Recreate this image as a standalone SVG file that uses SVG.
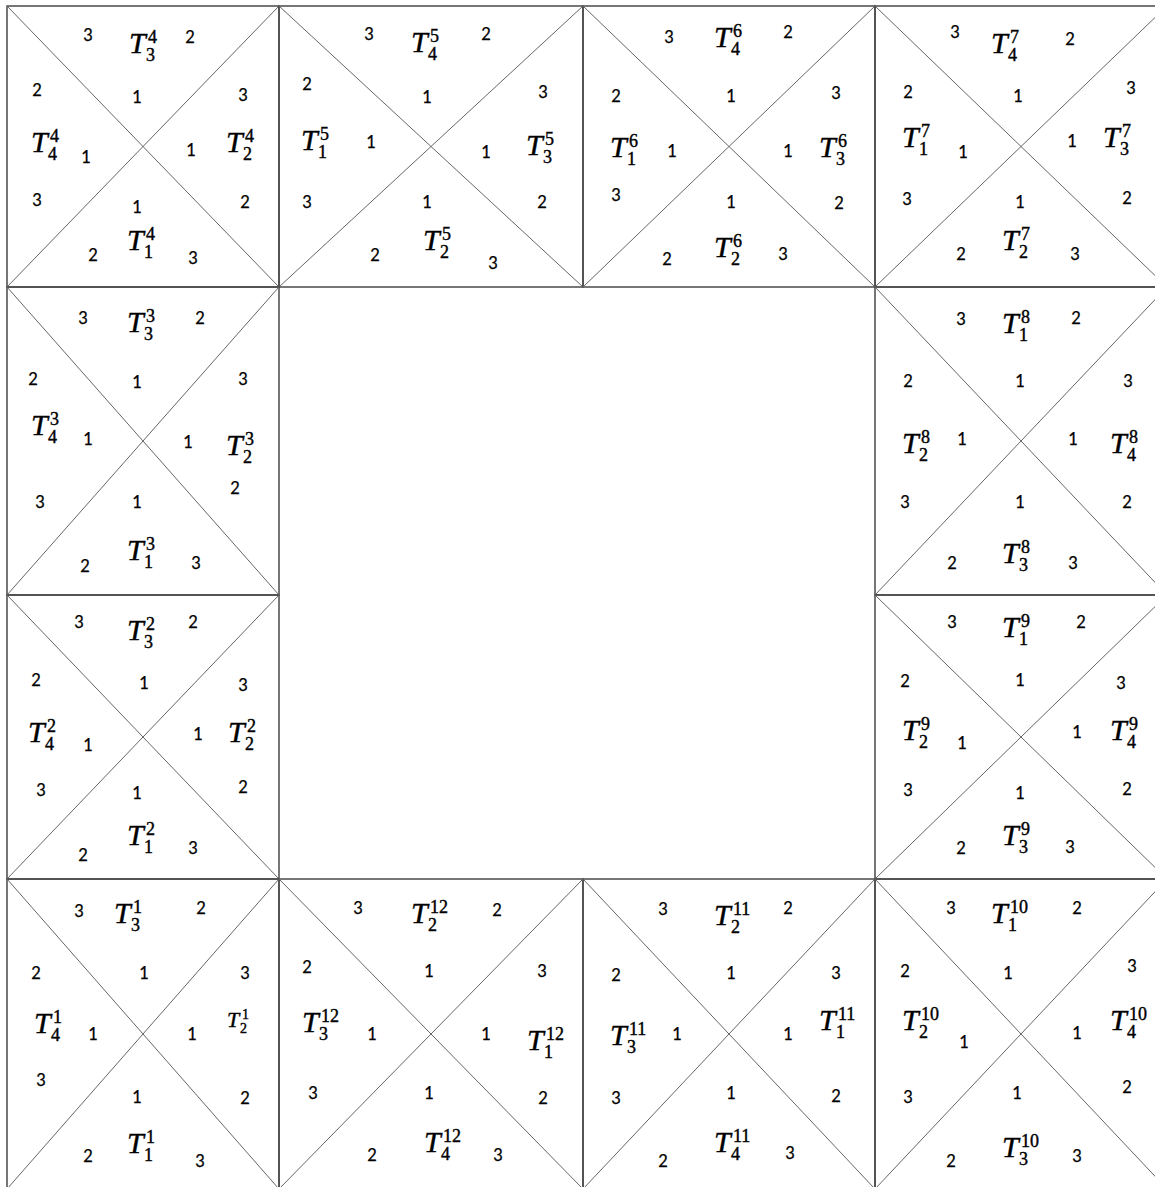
<svg xmlns="http://www.w3.org/2000/svg" width="1155" height="1187" viewBox="0 0 1155 1187">
<style>
.bd{fill:none;stroke:#4a4a4a;stroke-width:1.5}
.dg{fill:none;stroke:#666;stroke-width:1}
.n{font-family:Lato,"Liberation Sans",sans-serif;font-size:16.5px;fill:#000;stroke:#000;stroke-width:0.25;text-anchor:middle}
.T{font-family:"Liberation Serif",serif;font-style:italic;font-size:30px;fill:#000;stroke:#000;stroke-width:0.4}
.s{font-family:"Liberation Serif",serif;font-style:normal;font-size:18px}
.Tsm{font-size:22px}
.ssm{font-size:14px}
</style>
<rect width="1155" height="1187" fill="#fff"/>
<g id="connectors"></g>

<g id="sq4">
<rect class="bd" x="7" y="6" width="272" height="281"/>
<path class="dg" d="M7 6L279 287M279 6L7 287"/>
<text class="n" x="88" y="41">3</text><text class="n" x="190" y="43">2</text>
<text class="n" x="37" y="96">2</text><text class="n" x="137" y="103">1</text><text class="n" x="243" y="101">3</text>
<text class="n" x="86" y="163">1</text><text class="n" x="191" y="156">1</text>
<text class="n" x="37" y="206">3</text><text class="n" x="137" y="213">1</text><text class="n" x="245" y="208">2</text>
<text class="n" x="93" y="261">2</text><text class="n" x="193" y="264">3</text>
<text class="T" x="129" y="53">T<tspan class="s" x="148" y="43">4</tspan><tspan class="s" x="146" y="61">3</tspan></text>
<text class="T" x="31" y="152">T<tspan class="s" x="50" y="142">4</tspan><tspan class="s" x="48" y="160">4</tspan></text>
<text class="T" x="226" y="152">T<tspan class="s" x="245" y="142">4</tspan><tspan class="s" x="243" y="160">2</tspan></text>
<text class="T" x="127" y="250">T<tspan class="s" x="146" y="240">4</tspan><tspan class="s" x="144" y="258">1</tspan></text>
</g>

<g id="sq5">
<rect class="bd" x="279" y="6" width="304" height="281"/>
<path class="dg" d="M279 6L583 287M583 6L279 287"/>
<text class="n" x="369" y="40">3</text><text class="n" x="486" y="40">2</text>
<text class="n" x="307" y="90">2</text><text class="n" x="427" y="103">1</text><text class="n" x="543" y="98">3</text>
<text class="n" x="371" y="148">1</text><text class="n" x="486" y="158">1</text>
<text class="n" x="307" y="208">3</text><text class="n" x="427" y="208">1</text><text class="n" x="542" y="208">2</text>
<text class="n" x="375" y="261">2</text><text class="n" x="493" y="269">3</text>
<text class="T" x="411" y="52">T<tspan class="s" x="430" y="42">5</tspan><tspan class="s" x="428" y="60">4</tspan></text>
<text class="T" x="301" y="150">T<tspan class="s" x="320" y="140">5</tspan><tspan class="s" x="318" y="158">1</tspan></text>
<text class="T" x="526" y="155">T<tspan class="s" x="545" y="145">5</tspan><tspan class="s" x="543" y="163">3</tspan></text>
<text class="T" x="423" y="250">T<tspan class="s" x="442" y="240">5</tspan><tspan class="s" x="440" y="258">2</tspan></text>
</g>

<g id="sq6">
<rect class="bd" x="583" y="6" width="292" height="281"/>
<path class="dg" d="M583 6L875 287M875 6L583 287"/>
<text class="n" x="669" y="43">3</text><text class="n" x="788" y="38">2</text>
<text class="n" x="616" y="102">2</text><text class="n" x="731" y="102">1</text><text class="n" x="836" y="99">3</text>
<text class="n" x="672" y="157">1</text><text class="n" x="788" y="157">1</text>
<text class="n" x="616" y="201">3</text><text class="n" x="731" y="208">1</text><text class="n" x="839" y="209">2</text>
<text class="n" x="667" y="265">2</text><text class="n" x="783" y="260">3</text>
<text class="T" x="714" y="47">T<tspan class="s" x="733" y="37">6</tspan><tspan class="s" x="731" y="55">4</tspan></text>
<text class="T" x="610" y="157">T<tspan class="s" x="629" y="147">6</tspan><tspan class="s" x="627" y="165">1</tspan></text>
<text class="T" x="819" y="157">T<tspan class="s" x="838" y="147">6</tspan><tspan class="s" x="836" y="165">3</tspan></text>
<text class="T" x="714" y="257">T<tspan class="s" x="733" y="247">6</tspan><tspan class="s" x="731" y="265">2</tspan></text>
</g>

<g id="sq7">
<rect class="bd" x="875" y="6" width="292" height="281"/>
<path class="dg" d="M875 6L1167 287M1167 6L875 287"/>
<text class="n" x="955" y="38">3</text><text class="n" x="1070" y="45">2</text>
<text class="n" x="908" y="98">2</text><text class="n" x="1018" y="102">1</text><text class="n" x="1131" y="94">3</text>
<text class="n" x="963" y="158">1</text><text class="n" x="1072" y="147">1</text>
<text class="n" x="907" y="205">3</text><text class="n" x="1020" y="208">1</text><text class="n" x="1127" y="204">2</text>
<text class="n" x="961" y="260">2</text><text class="n" x="1075" y="260">3</text>
<text class="T" x="991" y="53">T<tspan class="s" x="1010" y="43">7</tspan><tspan class="s" x="1008" y="61">4</tspan></text>
<text class="T" x="902" y="147">T<tspan class="s" x="921" y="137">7</tspan><tspan class="s" x="919" y="155">1</tspan></text>
<text class="T" x="1103" y="147">T<tspan class="s" x="1122" y="137">7</tspan><tspan class="s" x="1120" y="155">3</tspan></text>
<text class="T" x="1002" y="250">T<tspan class="s" x="1021" y="240">7</tspan><tspan class="s" x="1019" y="258">2</tspan></text>
</g>

<g id="sq3">
<rect class="bd" x="7" y="287" width="272" height="308"/>
<path class="dg" d="M7 287L279 595M279 287L7 595"/>
<text class="n" x="83" y="324">3</text><text class="n" x="200" y="324">2</text>
<text class="n" x="33" y="385">2</text><text class="n" x="137" y="388">1</text><text class="n" x="243" y="385">3</text>
<text class="n" x="88" y="445">1</text><text class="n" x="188" y="448">1</text>
<text class="n" x="40" y="508">3</text><text class="n" x="137" y="508">1</text><text class="n" x="235" y="494">2</text>
<text class="n" x="85" y="572">2</text><text class="n" x="196" y="569">3</text>
<text class="T" x="127" y="332">T<tspan class="s" x="146" y="322">3</tspan><tspan class="s" x="144" y="340">3</tspan></text>
<text class="T" x="31" y="435">T<tspan class="s" x="50" y="425">3</tspan><tspan class="s" x="48" y="443">4</tspan></text>
<text class="T" x="226" y="455">T<tspan class="s" x="245" y="445">3</tspan><tspan class="s" x="243" y="463">2</tspan></text>
<text class="T" x="127" y="560">T<tspan class="s" x="146" y="550">3</tspan><tspan class="s" x="144" y="568">1</tspan></text>
</g>

<g id="sq8">
<rect class="bd" x="875" y="287" width="292" height="308"/>
<path class="dg" d="M875 287L1167 595M1167 287L875 595"/>
<text class="n" x="961" y="325">3</text><text class="n" x="1076" y="324">2</text>
<text class="n" x="908" y="387">2</text><text class="n" x="1020" y="387">1</text><text class="n" x="1128" y="387">3</text>
<text class="n" x="962" y="445">1</text><text class="n" x="1073" y="445">1</text>
<text class="n" x="905" y="508">3</text><text class="n" x="1020" y="508">1</text><text class="n" x="1127" y="508">2</text>
<text class="n" x="952" y="569">2</text><text class="n" x="1073" y="569">3</text>
<text class="T" x="1002" y="333">T<tspan class="s" x="1021" y="323">8</tspan><tspan class="s" x="1019" y="341">1</tspan></text>
<text class="T" x="902" y="453">T<tspan class="s" x="921" y="443">8</tspan><tspan class="s" x="919" y="461">2</tspan></text>
<text class="T" x="1110" y="453">T<tspan class="s" x="1129" y="443">8</tspan><tspan class="s" x="1127" y="461">4</tspan></text>
<text class="T" x="1002" y="563">T<tspan class="s" x="1021" y="553">8</tspan><tspan class="s" x="1019" y="571">3</tspan></text>
</g>

<g id="sq2">
<rect class="bd" x="7" y="595" width="272" height="284"/>
<path class="dg" d="M7 595L279 879M279 595L7 879"/>
<text class="n" x="79" y="628">3</text><text class="n" x="193" y="628">2</text>
<text class="n" x="36" y="686">2</text><text class="n" x="144" y="689">1</text><text class="n" x="243" y="691">3</text>
<text class="n" x="88" y="751">1</text><text class="n" x="198" y="740">1</text>
<text class="n" x="41" y="796">3</text><text class="n" x="137" y="799">1</text><text class="n" x="243" y="793">2</text>
<text class="n" x="83" y="861">2</text><text class="n" x="193" y="854">3</text>
<text class="T" x="127" y="640">T<tspan class="s" x="146" y="630">2</tspan><tspan class="s" x="144" y="648">3</tspan></text>
<text class="T" x="28" y="742">T<tspan class="s" x="47" y="732">2</tspan><tspan class="s" x="45" y="750">4</tspan></text>
<text class="T" x="228" y="742">T<tspan class="s" x="247" y="732">2</tspan><tspan class="s" x="245" y="750">2</tspan></text>
<text class="T" x="127" y="845">T<tspan class="s" x="146" y="835">2</tspan><tspan class="s" x="144" y="853">1</tspan></text>
</g>

<g id="sq9">
<rect class="bd" x="875" y="595" width="292" height="284"/>
<path class="dg" d="M875 595L1167 879M1167 595L875 879"/>
<text class="n" x="952" y="628">3</text><text class="n" x="1081" y="628">2</text>
<text class="n" x="905" y="687">2</text><text class="n" x="1020" y="686">1</text><text class="n" x="1121" y="689">3</text>
<text class="n" x="962" y="749">1</text><text class="n" x="1077" y="738">1</text>
<text class="n" x="908" y="796">3</text><text class="n" x="1020" y="799">1</text><text class="n" x="1127" y="795">2</text>
<text class="n" x="961" y="854">2</text><text class="n" x="1070" y="853">3</text>
<text class="T" x="1002" y="637">T<tspan class="s" x="1021" y="627">9</tspan><tspan class="s" x="1019" y="645">1</tspan></text>
<text class="T" x="902" y="740">T<tspan class="s" x="921" y="730">9</tspan><tspan class="s" x="919" y="748">2</tspan></text>
<text class="T" x="1110" y="740">T<tspan class="s" x="1129" y="730">9</tspan><tspan class="s" x="1127" y="748">4</tspan></text>
<text class="T" x="1002" y="845">T<tspan class="s" x="1021" y="835">9</tspan><tspan class="s" x="1019" y="853">3</tspan></text>
</g>

<g id="sq1">
<rect class="bd" x="7" y="879" width="272" height="310"/>
<path class="dg" d="M7 879L279 1189M279 879L7 1189"/>
<text class="n" x="79" y="917">3</text><text class="n" x="201" y="914">2</text>
<text class="n" x="36" y="979">2</text><text class="n" x="144" y="979">1</text><text class="n" x="245" y="979">3</text>
<text class="n" x="93" y="1040">1</text><text class="n" x="192" y="1040">1</text>
<text class="n" x="41" y="1086">3</text><text class="n" x="137" y="1103">1</text><text class="n" x="245" y="1104">2</text>
<text class="n" x="88" y="1162">2</text><text class="n" x="200" y="1167">3</text>
<text class="T" x="114" y="923">T<tspan class="s" x="133" y="913">1</tspan><tspan class="s" x="131" y="931">3</tspan></text>
<text class="T" x="34" y="1033">T<tspan class="s" x="53" y="1023">1</tspan><tspan class="s" x="51" y="1041">4</tspan></text>
<text class="T Tsm" x="227" y="1027">T<tspan class="s ssm" x="242" y="1019">1</tspan><tspan class="s ssm" x="240" y="1033">2</tspan></text>
<text class="T" x="127" y="1153">T<tspan class="s" x="146" y="1143">1</tspan><tspan class="s" x="144" y="1161">1</tspan></text>
</g>

<g id="sq12">
<rect class="bd" x="279" y="879" width="304" height="310"/>
<path class="dg" d="M279 879L583 1189M583 879L279 1189"/>
<text class="n" x="358" y="914">3</text><text class="n" x="497" y="916">2</text>
<text class="n" x="307" y="973">2</text><text class="n" x="429" y="977">1</text><text class="n" x="542" y="977">3</text>
<text class="n" x="372" y="1040">1</text><text class="n" x="486" y="1040">1</text>
<text class="n" x="313" y="1099">3</text><text class="n" x="429" y="1099">1</text><text class="n" x="543" y="1104">2</text>
<text class="n" x="372" y="1161">2</text><text class="n" x="498" y="1161">3</text>
<text class="T" x="411" y="923">T<tspan class="s" x="430" y="913">12</tspan><tspan class="s" x="428" y="931">2</tspan></text>
<text class="T" x="302" y="1032">T<tspan class="s" x="321" y="1022">12</tspan><tspan class="s" x="319" y="1040">3</tspan></text>
<text class="T" x="527" y="1050">T<tspan class="s" x="546" y="1040">12</tspan><tspan class="s" x="544" y="1058">1</tspan></text>
<text class="T" x="424" y="1152">T<tspan class="s" x="443" y="1142">12</tspan><tspan class="s" x="441" y="1160">4</tspan></text>
</g>

<g id="sq11">
<rect class="bd" x="583" y="879" width="292" height="310"/>
<path class="dg" d="M583 879L875 1189M875 879L583 1189"/>
<text class="n" x="663" y="915">3</text><text class="n" x="788" y="914">2</text>
<text class="n" x="616" y="981">2</text><text class="n" x="731" y="979">1</text><text class="n" x="836" y="979">3</text>
<text class="n" x="677" y="1040">1</text><text class="n" x="788" y="1040">1</text>
<text class="n" x="616" y="1104">3</text><text class="n" x="731" y="1099">1</text><text class="n" x="836" y="1102">2</text>
<text class="n" x="663" y="1167">2</text><text class="n" x="790" y="1159">3</text>
<text class="T" x="714" y="925">T<tspan class="s" x="733" y="915">11</tspan><tspan class="s" x="731" y="933">2</tspan></text>
<text class="T" x="610" y="1045">T<tspan class="s" x="629" y="1035">11</tspan><tspan class="s" x="627" y="1053">3</tspan></text>
<text class="T" x="819" y="1030">T<tspan class="s" x="838" y="1020">11</tspan><tspan class="s" x="836" y="1038">1</tspan></text>
<text class="T" x="714" y="1152">T<tspan class="s" x="733" y="1142">11</tspan><tspan class="s" x="731" y="1160">4</tspan></text>
</g>

<g id="sq10">
<rect class="bd" x="875" y="879" width="292" height="310"/>
<path class="dg" d="M875 879L1167 1189M1167 879L875 1189"/>
<text class="n" x="951" y="914">3</text><text class="n" x="1077" y="914">2</text>
<text class="n" x="905" y="977">2</text><text class="n" x="1008" y="979">1</text><text class="n" x="1132" y="972">3</text>
<text class="n" x="964" y="1048">1</text><text class="n" x="1077" y="1039">1</text>
<text class="n" x="908" y="1103">3</text><text class="n" x="1017" y="1099">1</text><text class="n" x="1127" y="1093">2</text>
<text class="n" x="951" y="1167">2</text><text class="n" x="1077" y="1162">3</text>
<text class="T" x="991" y="923">T<tspan class="s" x="1010" y="913">10</tspan><tspan class="s" x="1008" y="931">1</tspan></text>
<text class="T" x="902" y="1030">T<tspan class="s" x="921" y="1020">10</tspan><tspan class="s" x="919" y="1038">2</tspan></text>
<text class="T" x="1110" y="1030">T<tspan class="s" x="1129" y="1020">10</tspan><tspan class="s" x="1127" y="1038">4</tspan></text>
<text class="T" x="1002" y="1157">T<tspan class="s" x="1021" y="1147">10</tspan><tspan class="s" x="1019" y="1165">3</tspan></text>
</g>
</svg>
